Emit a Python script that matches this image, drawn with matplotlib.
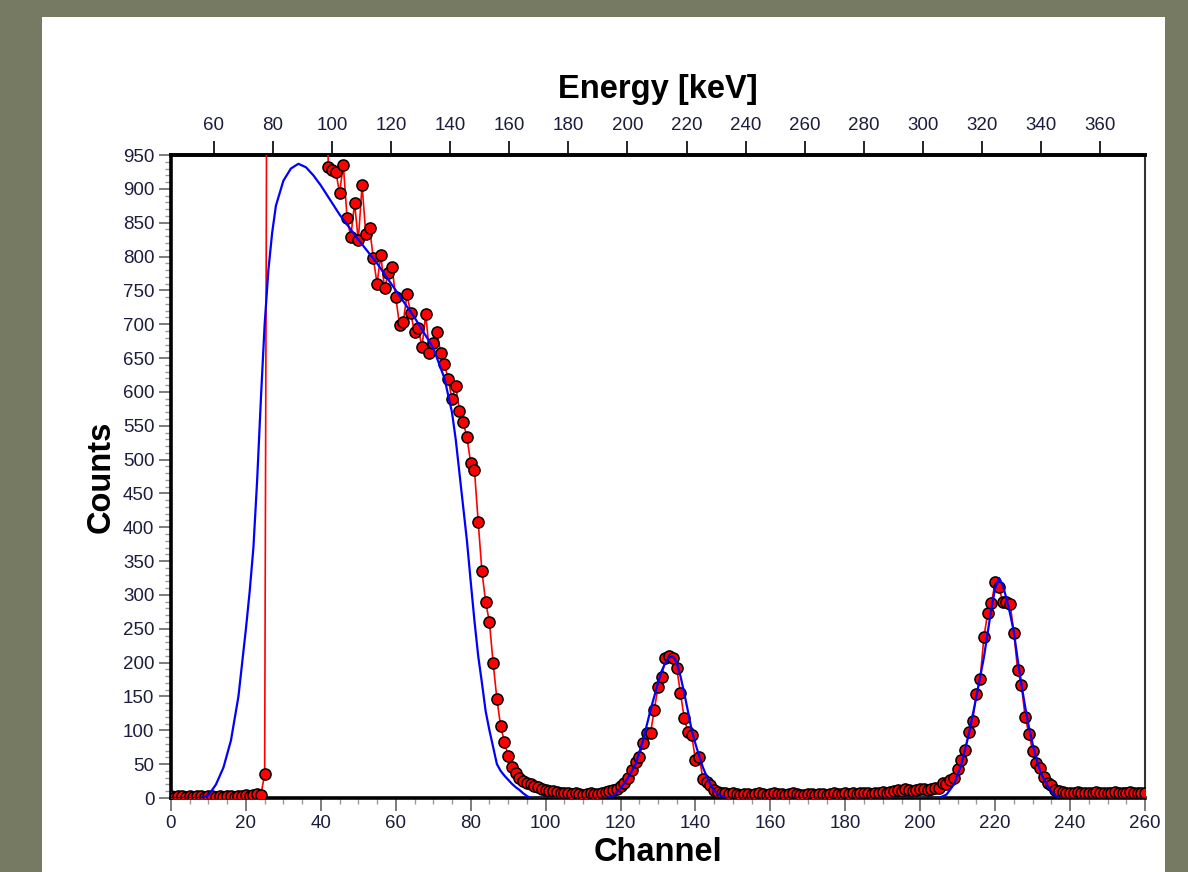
#!/usr/bin/env python3
# Gamma spectrum: measured counts per channel (red) and fitted curve (blue)

import numpy as np
import matplotlib
matplotlib.use("Agg")
import matplotlib.pyplot as plt
from matplotlib import font_manager
from matplotlib.patches import Rectangle
from matplotlib.ticker import MultipleLocator

# -------------------- DATA --------------------
# counts for channels 0..260, one value per channel
counts = [
    3, 2, 3, 3, 2, 3, 2, 3, 3, 2, 3, 3, 2, 3, 2, 3, 3, 2, 3, 3, 4, 3, 5, 6, 5,   # 0-24
    35,                                                                           # 25
    1900, 2600, 3000, 3100, 3000, 2800, 2600, 2400, 2200, 2000, 1800, 1600,
    1450, 1300, 1150, 1150,                                                       # 26-41 (off scale)
    932, 928, 925, 894, 935, 857, 829, 879, 824, 905, 834, 842, 798, 760,
    802, 753, 775, 784,                                                           # 42-59
    740, 699, 703, 744, 716, 688, 694, 666, 715, 657, 672, 688, 657, 641,
    619, 589, 609, 572, 555, 533,                                                 # 60-79
    495, 485, 408, 335, 289, 260, 199, 146, 106, 83, 62, 46, 37, 30, 25, 22,
    20, 17, 16, 14, 12,                                                           # 80-100
    11, 10, 9, 8, 8, 7, 6, 7, 6, 5, 6, 7, 6, 6, 8, 9, 10,                         # 101-117
    12, 14, 17, 22, 30, 41, 53, 60, 81, 96, 96, 130, 164, 179, 207, 210, 207,
    192, 155, 118, 97, 93, 56, 61, 28, 24, 19, 12, 9,                             # 118-146
    8, 7, 6, 7, 6, 5, 6, 6, 5, 6, 7, 6, 5, 6,                                     # 147-160
    7, 6, 6, 5, 6, 7, 6, 5, 5, 6, 6, 5, 6, 6, 5, 6, 7, 6, 6, 7,                   # 161-180
    6, 7, 6, 7, 8, 7, 6, 7, 8, 9, 8, 9, 10, 12, 11, 13, 12, 11, 12, 13, 14,
    12, 13, 15,                                                                   # 181-204
    15, 22, 20, 27, 30, 43, 56, 71, 97, 114, 154, 176, 238, 273, 288, 319,
    312, 290, 290, 287, 244, 189, 167, 120, 95, 70, 52, 45, 31, 22, 19, 12, 10,   # 205-237
    9, 8, 7, 8, 9, 8, 7, 8, 8, 9, 8, 7, 8, 8, 9, 8, 7, 8, 9, 8, 8, 7, 8,          # 238-260
]
channels = list(range(len(counts)))
assert len(counts) == 261

# fitted curve, sampled at these channels
fit_ch = [0, 8, 10, 12, 14, 16, 18, 19, 20, 21, 22, 23, 24, 25, 26, 27, 28, 30, 32,
          34, 36, 38, 40, 45, 50, 55, 60, 65, 70, 73, 75, 76, 77, 78, 79, 80,
          81, 82, 83, 84, 85, 86, 87, 88, 89, 90, 91, 92, 93, 94, 95, 96,
          116, 118, 120, 122, 124, 126, 128, 130, 131, 132, 133, 134, 135,
          136, 137, 138, 139, 140, 141, 142, 143, 144, 145, 146, 148,
          205, 207, 209, 211, 213, 215, 217, 219, 220, 221, 222, 223, 224,
          225, 226, 227, 228, 229, 230, 231, 232, 233, 234, 235, 236, 237, 260]
fit_counts = [0, 0, 4, 20, 45, 85, 150, 200, 250, 305, 370, 470, 590, 700, 780,
              835, 875, 912, 930, 937, 932, 920, 905, 862, 825, 790, 750, 710, 665,
              620, 570, 530, 480, 430, 380, 320, 262, 210, 170, 128, 100, 75,
              50, 40, 33, 27, 21, 16, 12, 7, 3, 0,
              0, 3, 14, 30, 50, 85, 130, 170, 188, 200, 208, 209, 200,
              180, 155, 128, 100, 80, 62, 45, 32, 20, 11, 6, 0,
              0, 5, 20, 50, 95, 150, 208, 280, 310, 325, 315, 295, 272,
              245, 205, 168, 135, 105, 80, 58, 40, 28, 18, 10, 4, 0, 0]

energy_ticks = list(range(60, 361, 20))
# ---------------------------------------------------------------------

# energy calibration of the top axis: E = E0 + GAIN * channel
E0 = 45.5
GAIN = 1.268

W, H = 1188, 872
BG = "#777a62"
TICK_TXT = "#1c1c3c"

names = {f.name for f in font_manager.fontManager.ttflist}
if "Liberation Sans Narrow" in names:
    tick_font, tick_size = "Liberation Sans Narrow", 16
else:
    tick_font, tick_size = "Liberation Sans", 13.5
label_font = "Liberation Sans"

fig = plt.figure(figsize=(W / 100, H / 100), dpi=100)
fig.patch.set_facecolor(BG)
panel = Rectangle((42 / W, 0), (1165 - 42) / W, (H - 17) / H,
                  transform=fig.transFigure, facecolor="white",
                  edgecolor="none", zorder=-10)
fig.add_artist(panel)

ax = fig.add_axes([171 / W, 1 - 798 / H, 974 / W, 643 / H])
ax.set_facecolor("white")

ax.plot(channels, counts, color="#ff0000", lw=1.2, marker="o", ms=8,
        mfc="#ff0000", mec="black", mew=1.1, zorder=3)
ax.plot(fit_ch, fit_counts, color="#0000ff", lw=1.6, zorder=4)

ax.set_xlim(0, 260)
ax.set_ylim(0, 950)
ax.xaxis.set_major_locator(MultipleLocator(20))
ax.xaxis.set_minor_locator(MultipleLocator(5))
ax.yaxis.set_major_locator(MultipleLocator(50))
ax.yaxis.set_minor_locator(MultipleLocator(10))

ax.tick_params(axis="both", which="major", direction="out", length=9, width=1.2,
               color="#666666", labelsize=tick_size, labelcolor=TICK_TXT, pad=3)
ax.tick_params(axis="both", which="minor", direction="out", length=4, width=1,
               color="#999999")
ax.tick_params(top=False, right=False, which="both")
for lab in ax.get_xticklabels() + ax.get_yticklabels():
    lab.set_fontfamily(tick_font)

for side in ("left", "bottom", "top"):
    ax.spines[side].set_linewidth(2.6)
    ax.spines[side].set_color("black")
ax.spines["right"].set_linewidth(1.5)
ax.spines["right"].set_color("#333333")

ax.set_xlabel("Channel", fontsize=23.5, fontweight="bold", family=label_font)
ax.set_ylabel("Counts", fontsize=23.5, fontweight="bold", family=label_font)
ax.xaxis.set_label_coords(0.5, -0.060)
ax.yaxis.set_label_coords(-0.056, 0.5)

secax = ax.secondary_xaxis("top", functions=(lambda c: E0 + GAIN * c,
                                             lambda e: (e - E0) / GAIN))
secax.set_xticks(energy_ticks)
secax.tick_params(axis="x", which="major", direction="out", length=10, width=1.2,
                  color="black", labelsize=tick_size, labelcolor=TICK_TXT, pad=5)
secax.tick_params(axis="x", which="minor", length=0)
for lab in secax.get_xticklabels():
    lab.set_fontfamily(tick_font)
secax.spines["top"].set_linewidth(2.6)
secax.set_xlabel("Energy [keV]", fontsize=23.5, fontweight="bold",
                 family=label_font, labelpad=14)

fig.savefig("out.png", dpi=100, facecolor=fig.get_facecolor())
